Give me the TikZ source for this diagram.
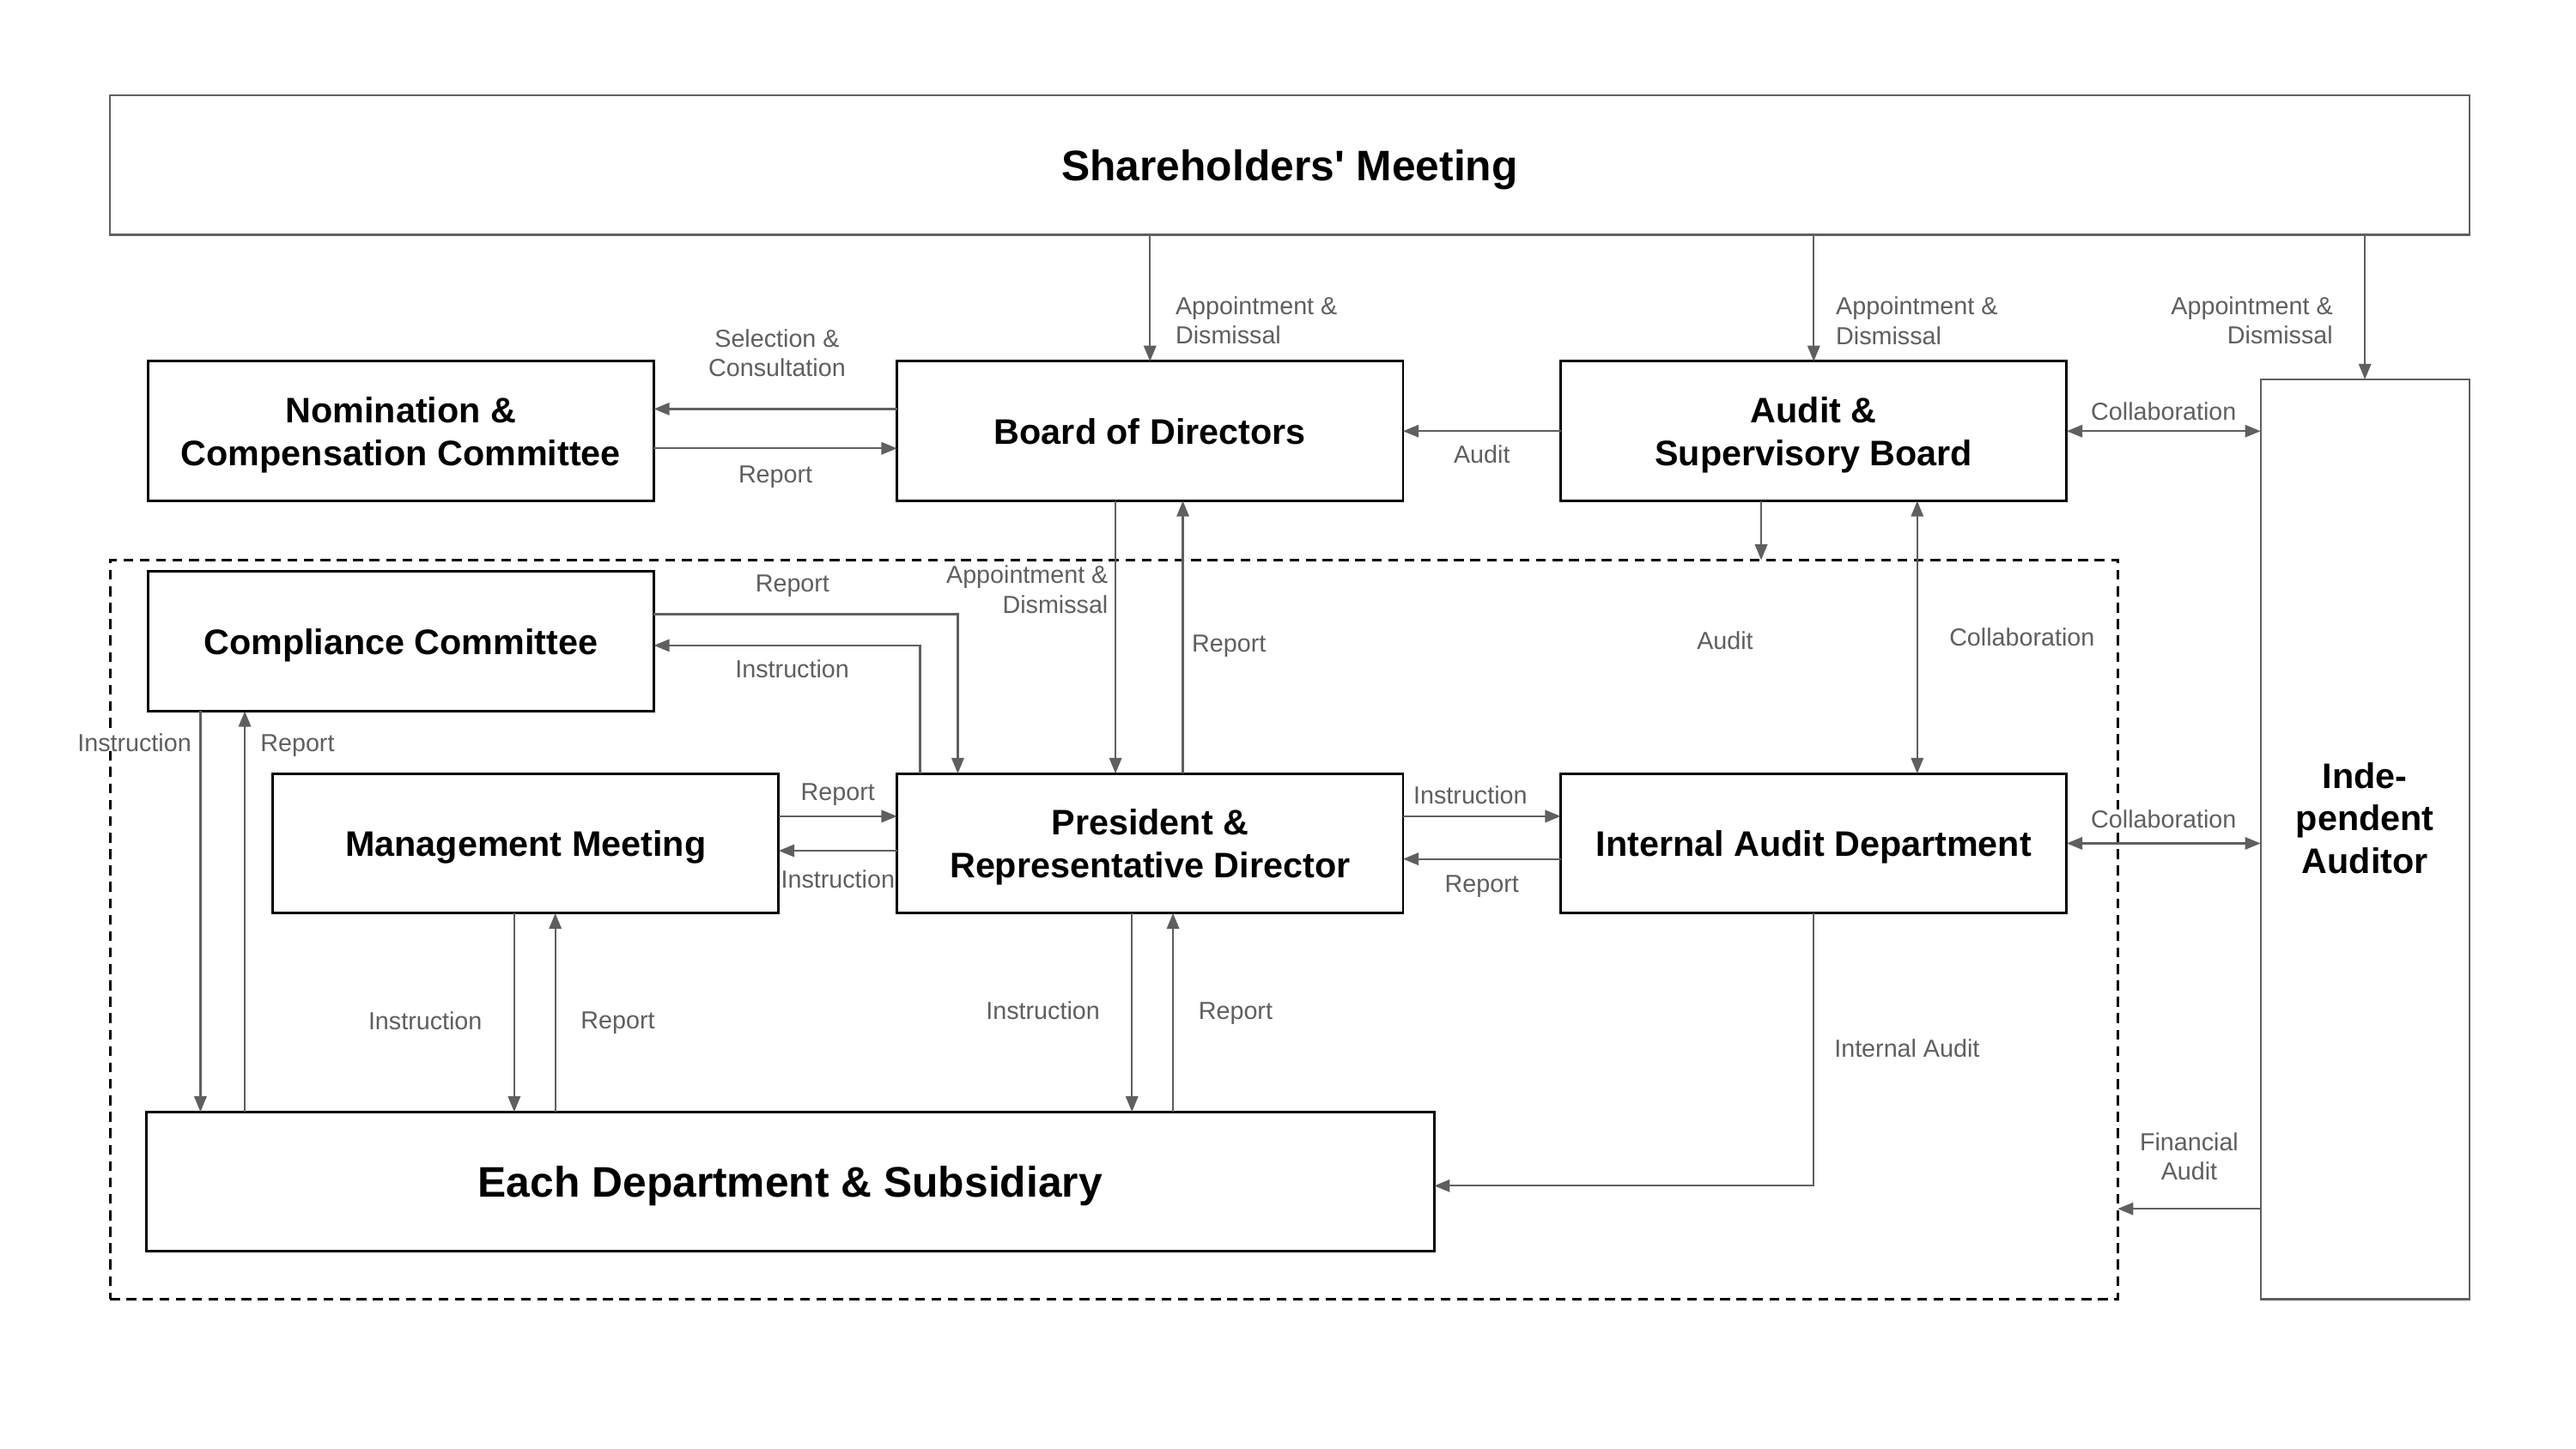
\documentclass[tikz,border=0pt]{standalone}
\usepackage{fontspec}
\setmainfont{Liberation Sans}
\newfontfamily\straightfont{Liberation Sans}
\usetikzlibrary{arrows.meta,positioning,calc}
\definecolor{linegray}{RGB}{95,95,95}

\begin{document}
\begin{tikzpicture}[x=1pt, y=-1pt, ->, >={Triangle[length=9.5pt,width=7.5pt]}, line width=1.15pt, color=linegray]
\tikzstyle{box}=[draw=black, line width=1.5pt, minimum width=308pt, minimum height=85pt, inner sep=0pt, outer sep=0pt, align=center, text=black, text depth=0pt, font=\fontsize{21.6}{26}\selectfont\bfseries]
\tikzstyle{gbox}=[box, draw=linegray, line width=1.2pt]
\tikzstyle{big}=[font=\fontsize{26}{31}\selectfont\bfseries]
\tikzstyle{lbl}=[inner sep=0pt, fill=white, align=center, text depth=0pt, font=\fontsize{15}{18}\selectfont]
\useasboundingbox (0,0) rectangle (1568,882.2);
\node[draw=black, line width=1.4pt, dash pattern=on 6pt off 4pt, minimum width=1222pt, minimum height=450pt, inner sep=0pt, outer sep=0pt] (G) at (678,566) {};
\node[gbox, big, minimum width=1436pt] (SM) at (785,100.5) {Shareholders{\straightfont\bfseries'} Meeting};
\node[box]    (BD) at (700,262.5)     {Board of Directors};
\node[box]    (NC) [left=148pt of BD]  {Nomination \&\\Compensation Committee};
\node[box]    (AS) [right=96pt of BD]  {Audit \&\\Supervisory Board};
\node[box]    (PR) [below=166pt of BD] {President \&\\Representative Director};
\node[box]    (IAD)[right=96pt of PR]  {Internal Audit Department};
\node[box]    (MM) [left=72pt of PR]   {Management Meeting};
\node[box]    (CC) [below=43pt of NC]  {Compliance Committee};
\node[box, big, minimum width=784pt] (ED) at (481,719.5) {Each Department \& Subsidiary};
\node[gbox, minimum width=127pt, minimum height=560pt, text depth=26pt] (IND) at (1439.5,511) {Inde-\\pendent\\Auditor};
\draw (SM.south -| BD.north) -- node[lbl, pos=.675, anchor=west, xshift=15pt, align=left]{Appointment \&\\Dismissal} (BD.north);
\draw (SM.south -| AS.north) -- node[lbl, pos=.68, anchor=west, xshift=13pt, align=left]{Appointment \&\\Dismissal} (AS.north);
\draw (SM.south -| IND.north) -- node[lbl, pos=.59, anchor=east, xshift=-19pt, align=right]{Appointment \&\\Dismissal} (IND.north);
\draw ([yshift=13.5pt]BD.west) -- node[lbl, xshift=1pt, yshift=34pt]{Selection \&\\Consultation} ([yshift=13.5pt]NC.east);
\draw ([yshift=-10.5pt]NC.east) -- node[lbl, yshift=-16pt]{Report} ([yshift=-10.5pt]BD.west);
\draw (AS.west) -- node[lbl, yshift=-14pt]{Audit} (BD.east);
\draw[<->] (AS.east) -- node[lbl, yshift=12pt]{Collaboration} (AS.east -| IND.west);
\draw ([xshift=-32pt]AS.south) -- ([xshift=-32pt]AS.south |- G.north) node[lbl, xshift=-22pt, yshift=-49pt]{Audit};
\draw[<->] ([xshift=63pt]AS.south) -- node[lbl, anchor=west, xshift=19pt]{Collaboration} ([xshift=63pt]IAD.north);
\draw ([xshift=-21pt]BD.south) -- node[lbl, pos=.325, anchor=east, xshift=-4pt, align=right]{Appointment \&\\Dismissal} ([xshift=-21pt]PR.north);
\draw ([xshift=20pt]PR.north) -- node[lbl, pos=.476, anchor=west, xshift=5pt]{Report} ([xshift=20pt]BD.south);
\draw ([yshift=16.5pt]CC.east) -| node[lbl, pos=.228, yshift=19pt]{Report} ([xshift=-117pt]PR.north);
\draw ([xshift=-140pt]PR.north) |- node[lbl, pos=.74, yshift=-14pt]{Instruction} ([yshift=-2.5pt]CC.east);
\draw ([xshift=-122pt]CC.south) -- node[lbl, pos=.078, anchor=east, xshift=-5pt]{Instruction} ([xshift=-122pt]CC.south |- ED.north);
\draw ([xshift=-95pt]CC.south |- ED.north) -- node[lbl, pos=.92, anchor=west, xshift=9pt]{Report} ([xshift=-95pt]CC.south);
\draw ([yshift=16.5pt]MM.east) -- node[lbl, yshift=15pt]{Report} ([yshift=16.5pt]PR.west);
\draw ([yshift=-4.5pt]PR.west) -- node[lbl, yshift=-17pt]{Instruction} ([yshift=-4.5pt]MM.east);
\draw ([xshift=-7pt]MM.south) -- node[lbl, pos=.54, anchor=east, xshift=-19pt]{Instruction} ([xshift=-7pt]MM.south |- ED.north);
\draw ([xshift=18pt]MM.south |- ED.north) -- node[lbl, pos=.46, anchor=west, xshift=15pt]{Report} ([xshift=18pt]MM.south);
\draw ([xshift=-11pt]PR.south) -- node[lbl, pos=.49, anchor=east, xshift=-19pt]{Instruction} ([xshift=-11pt]PR.south |- ED.north);
\draw ([xshift=14pt]PR.south |- ED.north) -- node[lbl, pos=.51, anchor=west, xshift=15pt]{Report} ([xshift=14pt]PR.south);
\draw ([yshift=16.5pt]PR.east) -- node[lbl, xshift=-7pt, yshift=13pt]{Instruction} ([yshift=16.5pt]IAD.west);
\draw ([yshift=-9.5pt]IAD.west) -- node[lbl, yshift=-15pt]{Report} ([yshift=-9.5pt]PR.east);
\draw[<->] (IAD.east) -- node[lbl, yshift=15pt]{Collaboration} (IAD.east -| IND.west);
\draw (IAD.south) |- node[lbl, pos=.247, anchor=west, xshift=12pt]{Internal Audit} ([yshift=-2.5pt]ED.east);
\draw ([yshift=-225pt]IND.west) -- node[lbl, yshift=32pt]{Financial\\Audit} ([yshift=-225pt]IND.west -| G.east);
\end{tikzpicture}
\end{document}
